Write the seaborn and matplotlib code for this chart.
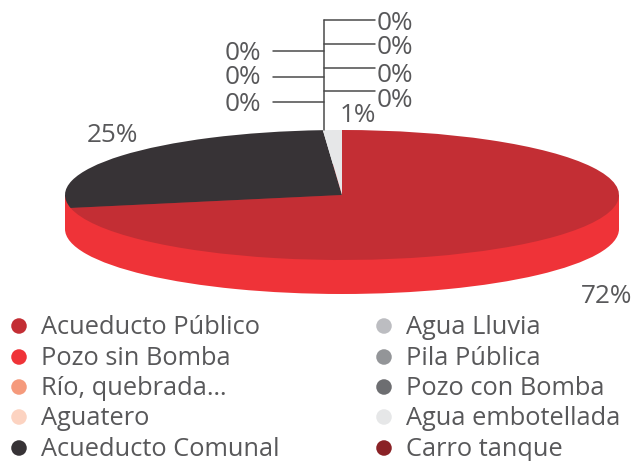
import matplotlib
matplotlib.use('Agg')
import matplotlib.pyplot as plt
import seaborn as sns
from matplotlib.patches import Rectangle

W, H = 633, 461

categories = ['Acueducto Público', 'Pozo sin Bomba', 'Río, quebrada…', 'Aguatero', 'Acueducto Comunal',
              'Agua Lluvia', 'Pila Pública', 'Pozo con Bomba', 'Agua embotellada', 'Carro tanque']
# shares as the slices are drawn in the picture
values = [71.8, 0, 0, 0, 27.1, 0, 0, 0, 1.1, 0]
colors = ['#c32e34', '#ef3338', '#f59a7c', '#fcd3c1', '#373336',
          '#bcbdc1', '#939598', '#6d6e71', '#e6e7e8', '#8a2226']
wall_color = '#ef3338'
text_color = '#58585a'
line_color = '#4a4a4a'

sns.set_theme(style='white')
plt.rcParams['font.family'] = ['Open Sans', 'DejaVu Sans']

fig = plt.figure(figsize=(W / 100, H / 100), dpi=100)

# pie, squashed into an ellipse
depth = 34 / 65
ax = fig.add_axes([65 / W, (H - 294) / H, 554 / W, 164 / H])
flat = {'linewidth': 0, 'edgecolor': 'none'}
ax.pie([sum(values)], colors=[wall_color], center=(0, -depth), radius=1, startangle=90, wedgeprops=flat)
ax.add_patch(Rectangle((-1, -depth), 2, depth, color=wall_color, lw=0))
ax.pie(values, colors=colors, startangle=90, counterclock=False, radius=1, wedgeprops=flat)
ax.set_aspect('auto')
ax.set_xlim(-1, 1)
ax.set_ylim(-1 - depth, 1)
ax.axis('off')

# overlay in pixel coordinates for labels and legend
ov = fig.add_axes([0, 0, 1, 1])
ov.set_xlim(0, W)
ov.set_ylim(H, 0)
ov.axis('off')
ov.patch.set_alpha(0)

# leader lines
ov.plot([324, 324], [20, 130], color=line_color, lw=1.1)
for y in [20, 44, 68, 91]:
    ov.plot([324, 375], [y, y], color=line_color, lw=1.1)
for y in [51, 77, 102]:
    ov.plot([273, 324], [y, y], color=line_color, lw=1.1)

pct_labels = ['0%', '0%', '0%', '0%', '0%', '0%', '0%', '1%', '25%', '72%']
pct_x = [377, 377, 377, 377, 225, 225, 225, 340, 87, 581]
pct_y = [24, 47, 75, 100, 54, 78, 104, 115, 135, 296]
for t, x, y in zip(pct_labels, pct_x, pct_y):
    ov.text(x, y, t, fontsize=18.8, color=text_color, ha='left', va='center')

# legend
leg_x = [19] * 5 + [384] * 5
leg_y = [326, 357, 387, 417, 448] * 2
sns.scatterplot(x=leg_x, y=leg_y, hue=categories, palette=colors, hue_order=categories,
                s=125, linewidth=0, legend=False, ax=ov, clip_on=False)
ov.set_xlim(0, W)
ov.set_ylim(H, 0)
for name, x, y in zip(categories, leg_x, leg_y):
    ov.text(x + 22, y + 1.5, name, fontsize=18.3, color=text_color, ha='left', va='center')

fig.savefig('out.png', dpi=100)
